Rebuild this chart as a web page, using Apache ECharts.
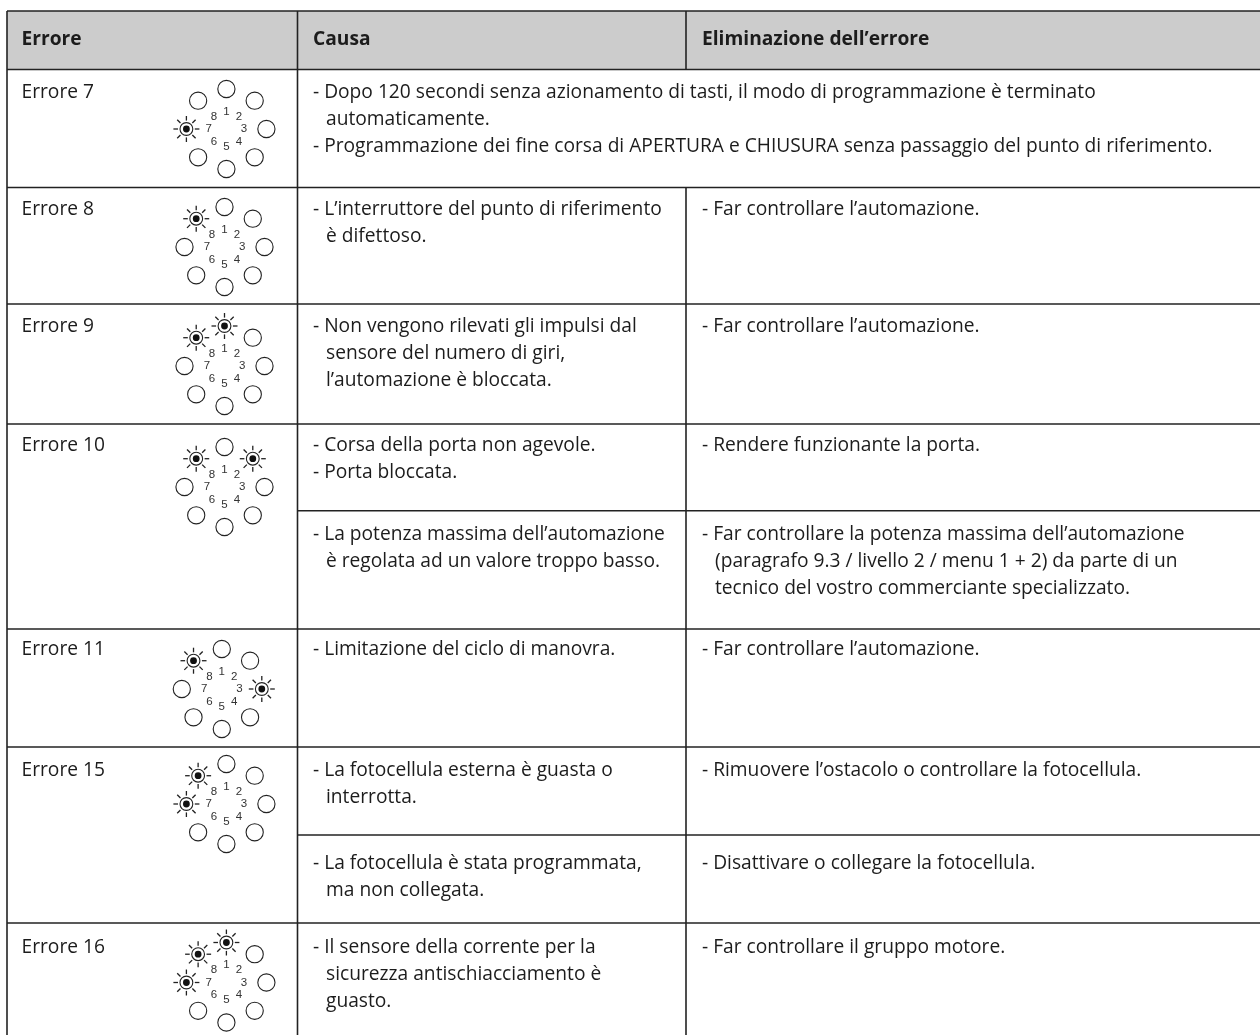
<!DOCTYPE html>
<html>
<head>
<meta charset="utf-8">
<style>html,body{margin:0;padding:0;background:#fff}#chart{width:1260px;height:1035px}</style>
<script src="https://cdn.jsdelivr.net/npm/echarts@6/dist/echarts.min.js"></script>
</head>
<body>
<div id="chart"></div>
<script>
const headers = ['Errore', 'Causa', 'Eliminazione dell’errore'];
const errorNames = ['Errore 7', 'Errore 8', 'Errore 9', 'Errore 10', 'Errore 11', 'Errore 15', 'Errore 16'];
const ledNumbers = ['1', '2', '3', '4', '5', '6', '7', '8'];
// quali led lampeggiano per ogni errore
const litLeds = [['7'], ['8'], ['8', '1'], ['8', '2'], ['8', '3'], ['8', '7'], ['8', '1', '7']];
const causes = [
  ['- Dopo 120 secondi senza azionamento di tasti, il modo di programmazione è terminato', 'automaticamente.', '- Programmazione dei fine corsa di APERTURA e CHIUSURA senza passaggio del punto di riferimento.'],
  ['- L’interruttore del punto di riferimento', 'è difettoso.'],
  ['- Non vengono rilevati gli impulsi dal', 'sensore del numero di giri,', 'l’automazione è bloccata.'],
  ['- Corsa della porta non agevole.', '- Porta bloccata.'],
  ['- La potenza massima dell’automazione', 'è regolata ad un valore troppo basso.'],
  ['- Limitazione del ciclo di manovra.'],
  ['- La fotocellula esterna è guasta o', 'interrotta.'],
  ['- La fotocellula è stata programmata,', 'ma non collegata.'],
  ['- Il sensore della corrente per la', 'sicurezza antischiacciamento è', 'guasto.']
];
const remedies = [
  [],
  ['- Far controllare l’automazione.'],
  ['- Far controllare l’automazione.'],
  ['- Rendere funzionante la porta.'],
  ['- Far controllare la potenza massima dell’automazione', '(paragrafo 9.3 / livello 2 / menu 1 + 2) da parte di un', 'tecnico del vostro commerciante specializzato.'],
  ['- Far controllare l’automazione.'],
  ['- Rimuovere l’ostacolo o controllare la fotocellula.'],
  ['- Disattivare o collegare la fotocellula.'],
  ['- Far controllare il gruppo motore.']
];

// layout della tabella, in px
const W = 1260, H = 1035;
const colX = [7, 297.5, 686];
const tableTop = 11, headerBottom = 69.5, headerMid = 39.5;
const rowLines = [187.5, 304, 424, 629, 747, 923];
const subLines = [510.7, 835];
const blockFirstLine = [93, 209.5, 326.5, 445.5, 534.5, 649.5, 770.5, 863.5, 947.5];
const errorBlocks = [0, 1, 2, 3, 5, 6, 8];
const ringCenters = [[226.4, 129], [224.5, 247], [224.5, 366], [224.5, 487], [221.8, 689], [226.4, 804], [226.4, 982.5]];
const fontFamily = '"Open Sans", "Noto Sans", sans-serif';
const fontSize = 19.2, lineGap = 27;
const textX = [21.5, 313, 702], hang = 13;
const inkColor = '#1c1c1c';

const tableLines = [
  [colX[0], tableTop, W, tableTop],
  [colX[0], headerBottom, W, headerBottom],
  [colX[0], tableTop, colX[0], H],
  [colX[1], tableTop, colX[1], H],
  [colX[2], tableTop, colX[2], headerBottom],
  [colX[2], rowLines[0], colX[2], H]
];
rowLines.forEach(y => tableLines.push([colX[0], y, W, y]));
subLines.forEach(y => tableLines.push([colX[1], y, W, y]));

const textRows = [];
headers.forEach((t, i) => textRows.push([textX[i], headerMid, t, 1]));
errorNames.forEach((t, i) => textRows.push([textX[0], blockFirstLine[errorBlocks[i]], t, 0]));
[causes, remedies].forEach((col, c) => col.forEach((lines, b) => lines.forEach((t, l) => {
  const indent = t.charAt(0) === '-' ? 0 : hang;
  textRows.push([textX[c + 1] + indent, blockFirstLine[b] + l * lineGap, t, 0]);
})));

const chart = echarts.init(document.getElementById('chart'), null, { renderer: 'canvas' });

function renderLine(params, api) {
  const a = api.coord([api.value(0), api.value(1)]);
  const b = api.coord([api.value(2), api.value(3)]);
  return {
    type: 'line',
    shape: { x1: a[0], y1: a[1], x2: b[0], y2: b[1] },
    style: { stroke: '#222', lineWidth: 1.6 }
  };
}

function renderText(params, api) {
  const p = api.coord([api.value(0), api.value(1)]);
  const bold = api.value(3) === 1;
  return {
    type: 'text',
    style: {
      x: p[0], y: p[1],
      text: textRows[params.dataIndex][2],
      font: (bold ? '700 ' : '400 ') + fontSize + 'px ' + fontFamily,
      fill: inkColor,
      verticalAlign: 'middle'
    }
  };
}

function renderLed(params, api) {
  const p = api.coord([1, params.dataIndex]);
  const n = api.coord([0.44, params.dataIndex]);
  const lit = api.value(2) === 1;
  const children = [{
    type: 'text',
    style: {
      x: n[0], y: n[1], text: ledNumbers[params.dataIndex],
      font: '11.5px "Liberation Sans", Arial, sans-serif',
      fill: '#333', align: 'center', verticalAlign: 'middle'
    }
  }];
  if (!lit) {
    children.push({
      type: 'circle',
      shape: { cx: p[0], cy: p[1], r: 8.6 },
      style: { fill: '#fff', stroke: '#222', lineWidth: 1.1 }
    });
  } else {
    children.push({
      type: 'circle',
      shape: { cx: p[0], cy: p[1], r: 6.4 },
      style: { fill: '#fff', stroke: '#222', lineWidth: 1.1 }
    });
    children.push({
      type: 'circle',
      shape: { cx: p[0], cy: p[1], r: 3.4 },
      style: { fill: '#111' }
    });
    for (let k = 0; k < 8; k++) {
      const a = k * Math.PI / 4;
      children.push({
        type: 'line',
        shape: {
          x1: p[0] + Math.cos(a) * 8.4, y1: p[1] + Math.sin(a) * 8.4,
          x2: p[0] + Math.cos(a) * 13, y2: p[1] + Math.sin(a) * 13
        },
        style: { stroke: '#222', lineWidth: 1.3 }
      });
    }
  }
  return { type: 'group', children };
}

chart.setOption({
  backgroundColor: '#fff',
  animation: false,
  grid: { left: 0, top: 0, width: W, height: H },
  xAxis: { type: 'value', min: 0, max: W, show: false },
  yAxis: { type: 'value', min: 0, max: H, inverse: true, show: false },
  polar: ringCenters.map(c => ({ center: c, radius: 40 })),
  angleAxis: ringCenters.map((c, i) => ({
    polarIndex: i, type: 'category', data: ledNumbers, boundaryGap: false,
    startAngle: 90, show: false
  })),
  radiusAxis: ringCenters.map((c, i) => ({
    polarIndex: i, type: 'value', min: 0, max: 1, show: false
  })),
  series: [
    {
      // fondo grigio dell'intestazione
      type: 'custom', silent: true, z: 1,
      data: [[colX[0], tableTop, W, headerBottom]],
      renderItem: (params, api) => {
        const a = api.coord([api.value(0), api.value(1)]);
        const b = api.coord([api.value(2), api.value(3)]);
        return { type: 'rect', shape: { x: a[0], y: a[1], width: b[0] - a[0], height: b[1] - a[1] }, style: { fill: '#cccccc' } };
      }
    },
    { type: 'custom', silent: true, z: 2, data: tableLines, renderItem: renderLine },
    { type: 'custom', silent: true, z: 3, data: textRows.map(r => [r[0], r[1], 0, r[3]]), renderItem: renderText }
  ].concat(litLeds.map((lit, i) => ({
    type: 'custom',
    coordinateSystem: 'polar',
    polarIndex: i,
    silent: true,
    z: 4,
    data: ledNumbers.map((n, k) => [1, k, lit.indexOf(n) >= 0 ? 1 : 0]),
    renderItem: renderLed
  })))
});
</script>
</body>
</html>
